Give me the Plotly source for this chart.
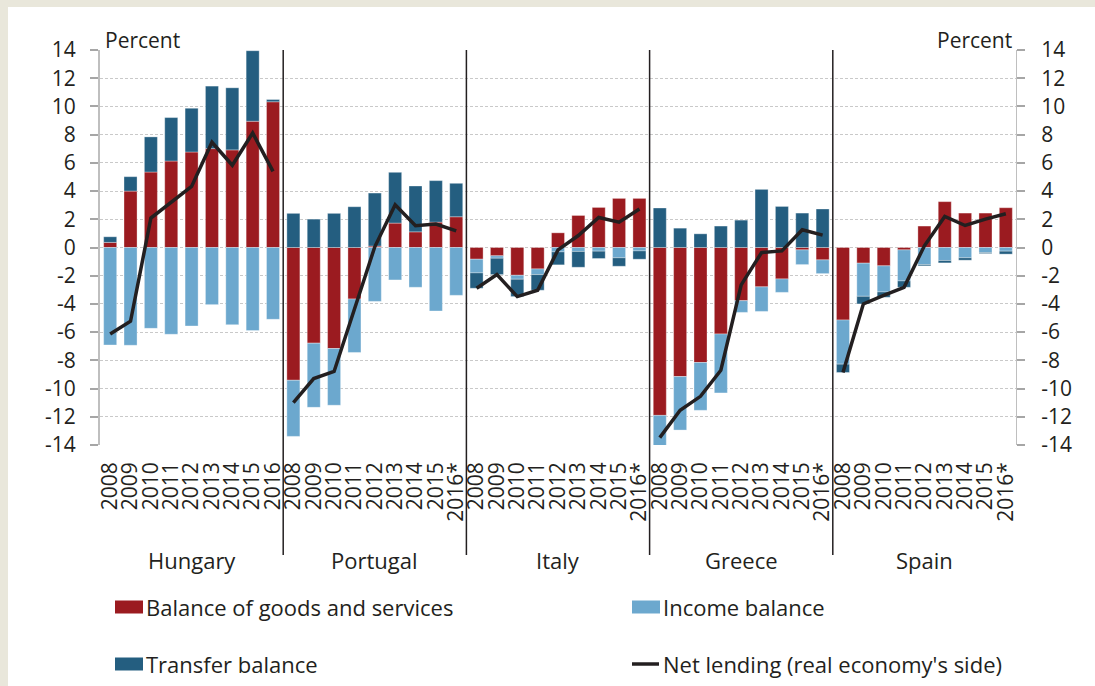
import plotly.graph_objects as go

# Current-account components and net lending, % of GDP
countries = ["Hungary", "Portugal", "Italy", "Greece", "Spain"]
years_hu = ["2008", "2009", "2010", "2011", "2012", "2013", "2014", "2015", "2016"]
years_other = ["2008", "2009", "2010", "2011", "2012", "2013", "2014", "2015", "2016*"]

goods = {
    "Hungary":  [0.36, 4.00, 5.35, 6.13, 6.77, 7.01, 6.92, 8.95, 10.33],
    "Portugal": [-9.41, -6.78, -7.16, -3.65, 0.10, 1.73, 1.11, 1.80, 2.18],
    "Italy":    [-0.83, -0.59, -1.97, -1.52, 1.04, 2.27, 2.84, 3.48, 3.48],
    "Greece":   [-11.90, -9.15, -8.15, -6.13, -3.77, -2.79, -2.23, -0.17, -0.88],
    "Spain":    [-5.14, -1.11, -1.30, -0.17, 1.52, 3.25, 2.44, 2.44, 2.82],
}
income = {
    "Hungary":  [-6.91, -6.93, -5.73, -6.15, -5.56, -4.05, -5.47, -5.89, -5.09],
    "Portugal": [-3.98, -4.55, -4.02, -3.79, -3.82, -2.30, -2.82, -4.50, -3.39],
    "Italy":    [-0.97, -0.17, -0.28, -0.40, -0.31, -0.28, -0.26, -0.73, -0.24],
    "Greece":   [-2.20, -3.79, -3.39, -4.18, -0.83, -1.74, -0.95, -1.04, -0.97],
    "Spain":    [-3.13, -2.35, -1.85, -2.20, -1.21, -0.92, -0.73, -0.36, -0.26],
}
transfer = {
    "Hungary":  [0.40, 1.02, 2.49, 3.08, 3.10, 4.43, 4.40, 5.00, 0.16],
    "Portugal": [2.42, 2.01, 2.42, 2.89, 3.76, 3.60, 3.25, 2.94, 2.37],
    "Italy":    [-1.09, -1.16, -1.23, -1.11, -0.92, -1.12, -0.52, -0.60, -0.59],
    "Greece":   [2.80, 1.37, 0.97, 1.52, 1.94, 4.12, 2.91, 2.44, 2.73],
    "Spain":    [-0.59, -0.54, -0.38, -0.45, -0.09, -0.17, -0.17, -0.07, -0.21],
}
net_lending = {
    "Hungary":  [-6.13, -5.23, 2.09, 3.22, 4.33, 7.46, 5.83, 8.12, 5.40],
    "Portugal": [-10.99, -9.29, -8.79, -4.30, 0.05, 3.03, 1.54, 1.66, 1.18],
    "Italy":    [-2.89, -1.92, -3.48, -3.03, -0.17, 0.85, 2.13, 1.80, 2.73],
    "Greece":   [-13.48, -11.54, -10.55, -8.70, -2.65, -0.36, -0.24, 1.26, 0.88],
    "Spain":    [-8.86, -4.00, -3.40, -2.82, 0.12, 2.20, 1.56, 2.01, 2.39],
}

y_ticks = [-14, -12, -10, -8, -6, -4, -2, 0, 2, 4, 6, 8, 10, 12, 14]
y_tick_text = ["-14", "-12", "-10", "-8", "-6", "-4", "-2", "0", "2", "4", "6", "8", "10", "12", "14"]

legend_labels = ["Balance of goods and services", "Income balance",
                 "Transfer balance", "Net lending (real economy's side)"]

RED = "#9B1B20"
LIGHT = "#6CA8CE"
DARK = "#245E80"
INK = "#231F20"
FONT = "Open Sans"

# page geometry (pixels)
W, H = 1095, 686
ML, MR, MT, MB = 100, 79, 50, 241
PW, PH = W - ML - MR, H - MT - MB


def px_x(px):
    return (px - ML) / PW


def px_y(py):
    return (H - MB - py) / PH


# flatten into one category axis, with gaps in the line between countries
xs, tick_text = [], []
g_all, i_all, t_all = [], [], []
line_x, line_y = [], []
idx = 0
for c in countries:
    labels = years_hu if c == "Hungary" else years_other
    for k in range(len(labels)):
        xs.append(idx)
        tick_text.append(labels[k])
        g_all.append(goods[c][k])
        i_all.append(income[c][k])
        t_all.append(transfer[c][k])
        line_x.append(idx)
        line_y.append(net_lending[c][k])
        idx += 1
    line_x.append(None)
    line_y.append(None)

bar_line = dict(color="rgba(255,255,255,0.55)", width=0.6)
fig = go.Figure()
fig.add_trace(go.Bar(x=xs, y=g_all, name=legend_labels[0], marker=dict(color=RED, line=bar_line), width=0.64))
fig.add_trace(go.Bar(x=xs, y=i_all, name=legend_labels[1], marker=dict(color=LIGHT, line=bar_line), width=0.64))
fig.add_trace(go.Bar(x=xs, y=t_all, name=legend_labels[2], marker=dict(color=DARK, line=bar_line), width=0.64))
fig.add_trace(go.Scatter(x=line_x, y=line_y, name=legend_labels[3], mode="lines",
                         line=dict(color=INK, width=3.5), connectgaps=False))
# keeps the right-hand axis drawn
fig.add_trace(go.Scatter(x=[None], y=[None], yaxis="y2", showlegend=False, hoverinfo="skip"))

shapes = [
    # white card on the beige page
    dict(type="rect", xref="paper", yref="paper", x0=px_x(8), x1=px_x(W + 5),
         y0=px_y(7), y1=px_y(H + 5), fillcolor="white", line=dict(width=0), layer="below"),
]
# country separators
n_per = len(years_hu)
for b in range(1, len(countries)):
    shapes.append(dict(type="line", xref="x", yref="paper", x0=b * n_per - 0.5, x1=b * n_per - 0.5,
                       y0=1, y1=px_y(555), line=dict(color=INK, width=1.5)))

annotations = []
for j, c in enumerate(countries):
    annotations.append(dict(x=j * n_per + (n_per - 1) / 2, y=px_y(560), xref="x", yref="paper",
                            text=c, showarrow=False, xanchor="center", yanchor="middle",
                            font=dict(family=FONT, size=22, color=INK)))
annotations.append(dict(x=px_x(103), y=px_y(40), xref="paper", yref="paper", text="Percent",
                        showarrow=False, xanchor="left", yanchor="middle",
                        font=dict(family=FONT, size=21, color=INK)))
annotations.append(dict(x=px_x(1014), y=px_y(40), xref="paper", yref="paper", text="Percent",
                        showarrow=False, xanchor="right", yanchor="middle",
                        font=dict(family=FONT, size=21, color=INK)))

# legend, two columns by two rows
legend_items = [
    (legend_labels[0], RED, "box", 115, 607),
    (legend_labels[1], LIGHT, "box", 632, 607),
    (legend_labels[2], DARK, "box", 115, 664),
    (legend_labels[3], INK, "line", 632, 664),
]
for text, color, kind, lx, ly in legend_items:
    if kind == "box":
        shapes.append(dict(type="rect", xref="paper", yref="paper", x0=px_x(lx), x1=px_x(lx + 28),
                           y0=px_y(ly - 6.5), y1=px_y(ly + 6.5), fillcolor=color, line=dict(width=0)))
    else:
        shapes.append(dict(type="line", xref="paper", yref="paper", x0=px_x(lx), x1=px_x(lx + 27),
                           y0=px_y(ly), y1=px_y(ly), line=dict(color=color, width=3.5)))
    annotations.append(dict(x=px_x(lx + 29), y=px_y(ly), xref="paper", yref="paper", text=text,
                            showarrow=False, xanchor="left", yanchor="middle",
                            font=dict(family=FONT, size=22, color=INK)))

y_common = dict(range=[-14, 14], tickmode="array", tickvals=y_ticks, ticktext=y_tick_text,
                ticks="outside", ticklen=8, tickwidth=1.5, tickcolor="#A6A6A6",
                showline=True, linecolor="#BFBFBF", zeroline=False,
                tickfont=dict(family=FONT, size=21, color=INK), fixedrange=True)

fig.update_layout(
    width=W, height=H,
    margin=dict(l=ML, r=MR, t=MT, b=MB, autoexpand=False),
    barmode="relative",
    bargap=0.36,
    showlegend=False,
    paper_bgcolor="#E9E7DB",
    plot_bgcolor="rgba(0,0,0,0)",
    xaxis=dict(range=[-0.5, len(xs) - 0.5], tickmode="array", tickvals=xs, ticktext=tick_text,
               tickangle=-90, showgrid=False, zeroline=False, showline=False, ticks="",
               ticklabelstandoff=12,
               tickfont=dict(family=FONT, size=21, color=INK), fixedrange=True),
    yaxis=dict(**y_common, linewidth=2, showgrid=True, gridcolor="#C9C9C9", gridwidth=1,
               griddash="3px,2px", side="left", ticklabelstandoff=10),
    yaxis2=dict(**y_common, linewidth=1, showgrid=False, overlaying="y", side="right",
                ticklabelstandoff=12),
    shapes=shapes,
    annotations=annotations,
)

fig.write_html("out.html")
